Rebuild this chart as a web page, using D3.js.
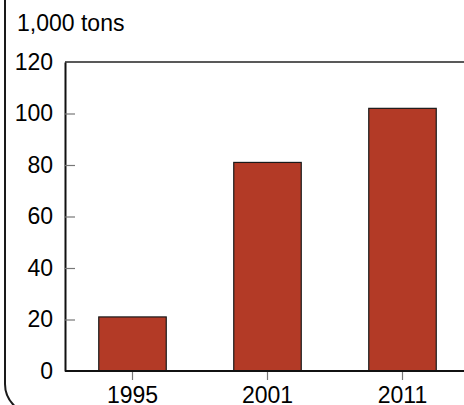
<!DOCTYPE html>
<html>
<head>
<meta charset="utf-8">
<script src="https://cdn.jsdelivr.net/npm/d3@7"></script>
<style>
  html, body { margin: 0; padding: 0; background: #fff; }
  svg { display: block; font-family: "Liberation Sans", Arial, sans-serif; }
</style>
</head>
<body>
<svg id="chart" width="464" height="405"></svg>
<script>
const categories = ["1995", "2001", "2011"];
const values = [21, 81, 102];
const yTicks = [0, 20, 40, 60, 80, 100, 120];
const unitLabel = "1,000 tons";

(function () {
const svg = d3.select("#chart");
const W = 464, H = 405;
const mLeft = 65, mTop = 62, mBottom = 371, mRight = 470;
const FS = 23;

// outer frame with rounded corner
svg.append("rect")
  .attr("x", 5).attr("y", -40)
  .attr("width", 540).attr("height", 454)
  .attr("rx", 30).attr("ry", 30)
  .attr("fill", "none").attr("stroke", "#1a1a1a").attr("stroke-width", 2);

const x = d3.scaleBand().domain(categories).range([mLeft, mRight])
  .paddingInner(0.5).paddingOuter(0.25);
const y = d3.scaleLinear().domain([0, 120]).range([mBottom, mTop]);

// plot box top line
svg.append("line")
  .attr("x1", mLeft).attr("x2", W + 5)
  .attr("y1", y(120)).attr("y2", y(120))
  .attr("stroke", "#222").attr("stroke-width", 1.5);

// bars
svg.append("g").selectAll("rect").data(values).join("rect")
  .attr("x", (d, i) => x(categories[i]))
  .attr("y", d => y(d))
  .attr("width", x.bandwidth())
  .attr("height", d => y(0) - y(d))
  .attr("fill", "#b33a26")
  .attr("stroke", "#1a1a1a").attr("stroke-width", 1.2);

// y axis
const yAxis = d3.axisLeft(y).tickValues(yTicks).tickSize(0).tickPadding(12);
const gy = svg.append("g").attr("transform", `translate(${mLeft},0)`).call(yAxis);
gy.attr("font-size", FS).attr("font-family", "Liberation Sans, Arial, sans-serif");
gy.select(".domain").attr("stroke", "#111").attr("stroke-width", 2);
gy.selectAll("text").attr("fill", "#000");
gy.selectAll(".tick").filter(d => d !== 0 && d !== 120).append("line")
  .attr("x1", 0).attr("x2", 10).attr("stroke", "#777").attr("stroke-width", 1.2);

// x axis
const xAxis = d3.axisBottom(x).tickSize(0).tickPadding(16);
const gx = svg.append("g").attr("transform", `translate(0,${mBottom})`).call(xAxis);
gx.attr("font-size", FS).attr("font-family", "Liberation Sans, Arial, sans-serif");
gx.select(".domain").remove();
gx.append("line").attr("x1", mLeft).attr("x2", W + 5)
  .attr("stroke", "#111").attr("stroke-width", 2);
gx.selectAll(".tick").append("line")
  .attr("y1", 0).attr("y2", 9).attr("stroke", "#777").attr("stroke-width", 1.2);
gx.selectAll("text").attr("fill", "#000");

// unit label
svg.append("text").attr("x", 17).attr("y", 31)
  .attr("font-size", FS).attr("fill", "#000")
  .text(unitLabel);
})();
</script>
</body>
</html>
